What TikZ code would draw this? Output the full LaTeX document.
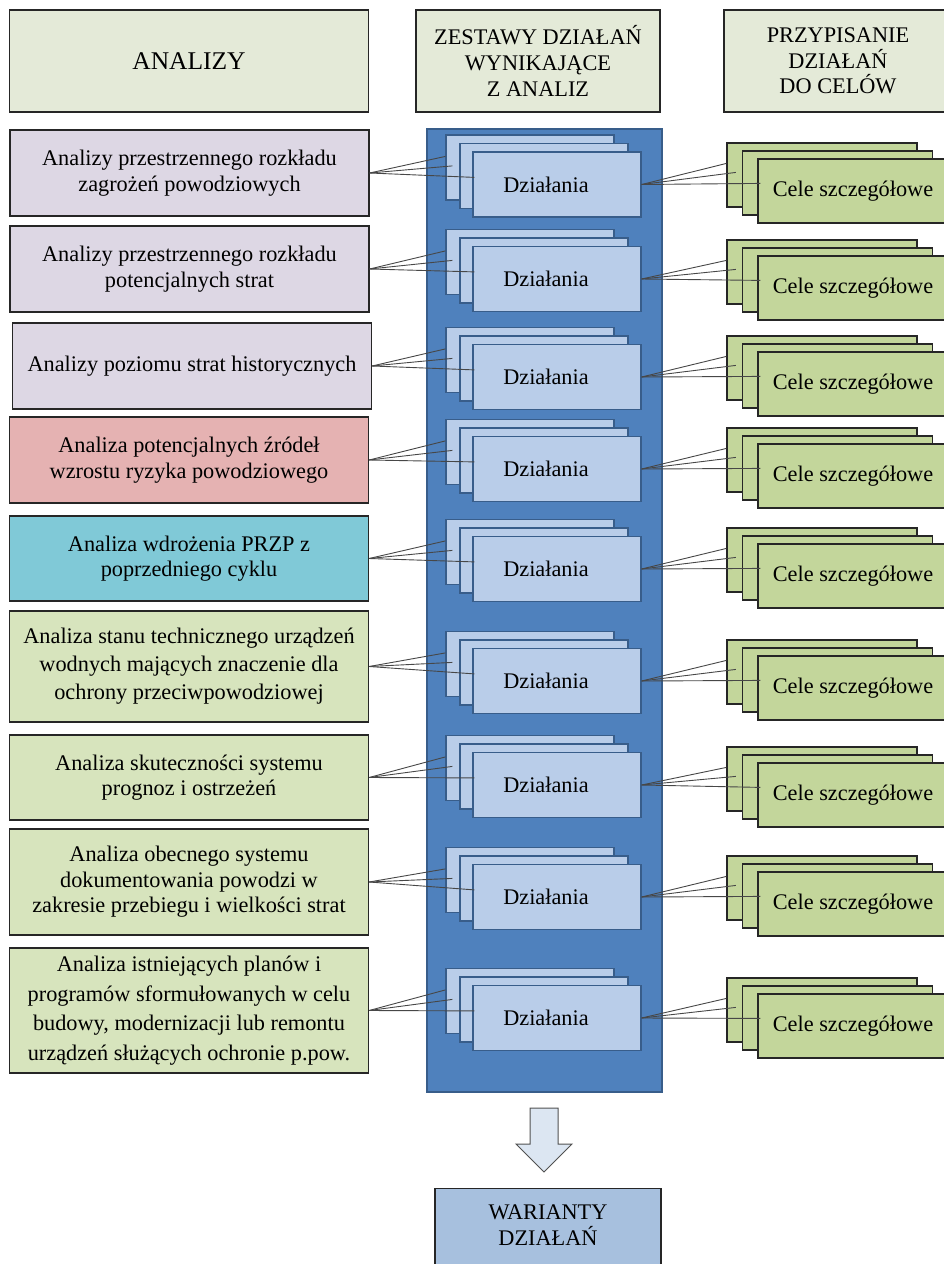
\documentclass[tikz,border=0pt]{standalone}
\usepackage{fontspec}
\setmainfont{Liberation Serif}
\usepackage{xcolor}
\usepackage{tikz}
\usetikzlibrary{arrows,shapes,calc}

\begin{document}
\begin{tikzpicture}[x=1pt,y=1pt,node distance=96pt]
    \definecolor{mynaglowek}{RGB}{228,234,216}
    \definecolor{mylawenda}{RGB}{221,215,228}
    \definecolor{myczerwony}{RGB}{229,178,178}
    \definecolor{mymorski}{RGB}{128,201,215}
    \definecolor{myzielony}{RGB}{215,228,189}
    \definecolor{mykolumna}{RGB}{79,129,189}
    \definecolor{mydzialanie}{RGB}{185,205,233}
    \definecolor{mycel}{RGB}{195,214,155}
    \definecolor{mywarianty}{RGB}{167,192,222}
    \definecolor{mystrzalka}{RGB}{220,230,242}
    \definecolor{myramka}{RGB}{38,38,38}
    \definecolor{myramkab}{RGB}{56,93,138}

    \fontsize{22.3}{25.6}\selectfont  % 字体大小
    \useasboundingbox (0,0) rectangle (944,-1264);
    \tikzstyle{format}=[rectangle,draw=myramka,line width=1.2pt,align=center,inner sep=0pt,minimum width=359pt]  % 分析框
    \tikzstyle{naglowek}=[format,fill=mynaglowek,minimum height=102pt]  % 标题框
    \tikzstyle{dzial}=[rectangle,draw=myramkab,line width=1.2pt,fill=mydzialanie,minimum width=168pt,minimum height=65pt]
    \tikzstyle{cel}=[rectangle,draw=myramka,line width=1.2pt,fill=mycel,minimum width=190pt,minimum height=64pt]
    \tikzstyle{polaczenie}=[draw=myramka!85,line width=0.9pt]  % 连接线

    % 标题
    \node[naglowek,font=\fontsize{25.5}{29}\selectfont](h1) at (189,-61){ANALIZY};
    \node[naglowek,minimum width=244pt](h2) at (538,-61){ZESTAWY DZIAŁAŃ\\WYNIKAJĄCE\\Z ANALIZ};
    \node[naglowek,minimum width=228pt](h3) at (838,-61){PRZYPISANIE\\DZIAŁAŃ\\DO CELÓW};

    % 中间的蓝色列
    \node[rectangle,draw=myramkab,line width=1.2pt,fill=mykolumna,minimum width=235pt,minimum height=963pt](kolumna) at (544.5,-610.5){};

    % 分析
    \node[format,fill=mylawenda,minimum height=86pt](a1) at (189.5,-173){Analizy przestrzennego rozkładu\\zagrożeń powodziowych};
    \node[format,fill=mylawenda,minimum height=86pt,below of=a1](a2){Analizy przestrzennego rozkładu\\potencjalnych strat};
    \node[format,fill=mylawenda,minimum height=86pt,below of=a2,node distance=97pt,xshift=2.5pt](a3){Analizy poziomu strat historycznych};
    \node[format,fill=myczerwony,minimum height=86pt,below of=a3,node distance=94pt,xshift=-3pt](a4){Analiza potencjalnych źródeł\\wzrostu ryzyka powodziowego};
    \node[format,fill=mymorski,minimum height=85pt,below of=a4,node distance=98.5pt](a5){Analiza wdrożenia PRZP z\\poprzedniego cyklu};
    \node[format,fill=myzielony,minimum height=111pt,below of=a5,node distance=108pt,font=\fontsize{22.3}{28}\selectfont](a6){Analiza stanu technicznego urządzeń\\wodnych mających znaczenie dla\\ochrony przeciwpowodziowej};
    \node[format,fill=myzielony,minimum height=85pt,below of=a6,node distance=111pt](a7){Analiza skuteczności systemu\\prognoz i ostrzeżeń};
    \node[format,fill=myzielony,minimum height=106pt,below of=a7,node distance=104.5pt](a8){Analiza obecnego systemu\\dokumentowania powodzi w\\zakresie przebiegu i wielkości strat};
    \node[format,fill=myzielony,minimum height=125pt,below of=a8,node distance=128.5pt,font=\fontsize{22.3}{29.5}\selectfont](a9){Analiza istniejących planów i\\programów sformułowanych w celu\\budowy, modernizacji lub remontu\\urządzeń służących ochronie p.pow.};

    % działania + cele, 每行三层
    \foreach \i/\dy/\cy in {1/184.5/191,2/279/288,3/377/384,4/469/476,5/569/576,6/681/688,7/785/795,8/897/904,9/1018/1026}{
        \node[dzial](dA\i) at (530,-\dy+17){};
        \node[dzial](dB\i) at (544,-\dy+8.5){};
        \node[dzial,label={[xshift=-11pt]center:Działania}](dC\i) at (557,-\dy){};
        \node[cel](cA\i) at (822,-\cy+16){};
        \node[cel](cB\i) at (837.5,-\cy+8){};
        \node[cel,label={center:Cele szczegółowe}](cC\i) at (853,-\cy){};
        \draw[polaczenie](a\i.east) -- ($(dA\i.north west)+(0,-22)$);
        \draw[polaczenie](a\i.east) -- ($(dB\i.north west)+(-7,-23)$);
        \draw[polaczenie](a\i.east) -- ($(dC\i.north west)+(2,-26)$);
        \draw[polaczenie](dC\i.east) -- ($(cA\i.north west)+(0,-21)$);
        \draw[polaczenie](dC\i.east) -- ($(cB\i.north west)+(-6,-22)$);
        \draw[polaczenie](dC\i.east) -- ($(cC\i.north west)+(3,-25)$);
    }

    % 结果
    \node[format,fill=mywarianty,minimum width=226pt,minimum height=84pt,anchor=north,
        label={[align=center,yshift=5.5pt]center:WARIANTY\\DZIAŁAŃ}](warianty) at (548,-1188){};
    \draw[draw=myramka!80,line width=1pt,fill=mystrzalka] (530,-1108) -- (558,-1108) -- (558,-1144) -- (572,-1144) -- (544,-1172) -- (516,-1144) -- (530,-1144) -- cycle;
\end{tikzpicture}
\end{document}
